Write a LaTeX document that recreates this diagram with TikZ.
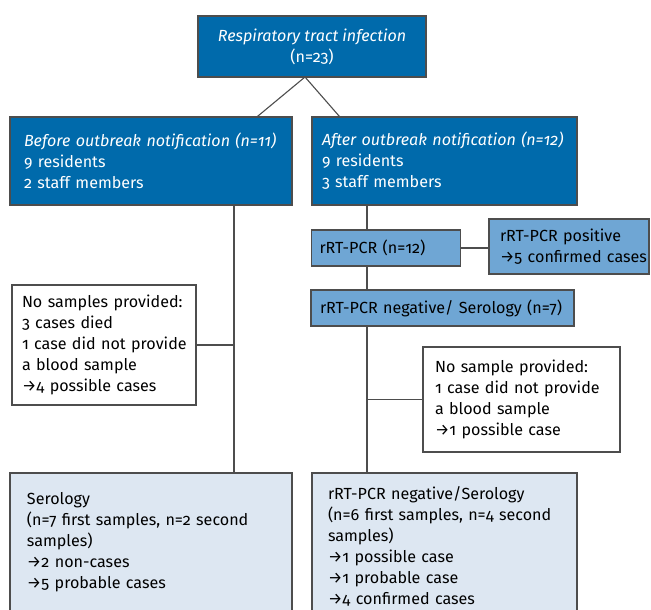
\documentclass[tikz,border=0pt]{standalone}
\usepackage{fontspec}
\setmainfont{Fira Sans}[Numbers=OldStyle]
\usepackage{tikz}
\definecolor{darkblue}{RGB}{0,106,171}
\definecolor{midblue}{RGB}{111,166,212}
\definecolor{paleblue}{RGB}{221,231,242}
\definecolor{edgegray}{RGB}{77,77,77}
\tikzset{
  box/.style={draw=edgegray, line width=1.1pt, rectangle, align=left,
    inner ysep=0pt, font=\fontsize{16.1}{21}\selectfont,
    execute at begin node={\hyphenpenalty=10000\exhyphenpenalty=10000\hfuzz=40pt}},
  darkbox/.style={box, fill=darkblue, text=white},
  midbox/.style={box, fill=midblue},
  palebox/.style={box, fill=paleblue},
  whitebox/.style={box, fill=white},
  link/.style={draw=edgegray, line width=1.1pt}
}

\begin{document}
\begin{tikzpicture}[x=1pt, y=-1pt]
    \clip (0,0) rectangle (651,610);
    \fill[white] (0,0) rectangle (651,610);
    \node [darkbox, align=center, minimum width=228pt, minimum height=61pt] (0) at (312, 46.5)
        {{\itshape Respiratory tract infection}\\(n=23)};
	\node [darkbox, text width=254pt, inner xsep=14pt, minimum height=88pt] (1) at (151, 161)
        {{\itshape Before~outbreak~notification~(n=11)}\\9 residents\\2 staff members};
	\node [darkbox, text width=245pt, inner xsep=10pt, minimum height=88pt] (2) at (444.5, 161)
        {{\itshape After~outbreak~notification~(n=12)}\\9 residents\\3 staff members};
	\node [midbox, text width=133pt, inner xsep=8pt, minimum height=36pt] (3) at (386, 248)
        {rRT-PCR (n=12)};
	\node [midbox, text width=138pt, inner xsep=11pt, minimum height=55pt] (4) at (569, 246.5)
        {rRT-PCR~positive\\→5~confirmed~cases};
	\node [midbox, text width=245pt, inner xsep=9pt, minimum height=36pt] (5) at (442.5, 308)
        {rRT-PCR~negative/~Serology~(n=7)};
	\node [whitebox, text width=164pt, inner xsep=10pt, minimum height=120pt] (6) at (104, 345)
        {No~samples~provided:\\3 cases died\\1~case~did~not~provide\\a blood sample\\→4~possible~cases};
	\node [whitebox, text width=173pt, inner xsep=12pt, minimum height=105pt] (7) at (521.5, 399.5)
        {No~sample~provided:\\1~case~did~not~provide\\a blood sample\\→1~possible~case};
	\node [palebox, text width=248pt, inner xsep=17pt, minimum height=138pt] (8) at (151, 542)
        {Serology\\(n=7~first~samples,~n=2~second\\samples)\\→2 non-cases\\→5 probable cases};
	\node [palebox, text width=233pt, inner xsep=16pt, minimum height=146pt] (9) at (444.5, 546)
        {rRT-PCR negative/Serology\\(n=6~first~samples,~n=4~second\\samples)\\→1 possible case\\→1 probable case\\→4 confirmed cases};
	\coordinate (10) at (305, 77);
	\coordinate (11) at (234, 0);
	\coordinate (12) at (367, 0);
	% edges
	\draw [link] (10) to ([xshift=248pt]1.north west);
	\draw [link] (10) to ([xshift=28pt]2.north west);
	\draw [link] (1.south -| 11) to (8.north -| 11);
	\draw [link] (6.east) to (6.east -| 11);
	\draw [link] (2.south -| 12) to (3.north -| 12);
	\draw [link] (3.south -| 12) to (5.north -| 12);
	\draw [link] (5.south -| 12) to (9.north -| 12);
	\draw [link] (3.east) to (3.east -| 4.west);
	\draw [link] (7.west) to (7.west -| 12);
\end{tikzpicture}
\end{document}
